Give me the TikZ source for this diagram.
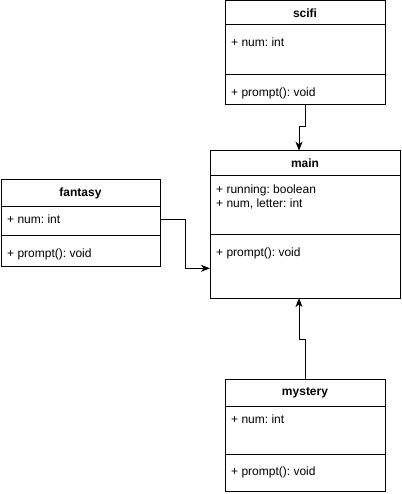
\documentclass[tikz,border=0pt]{standalone}
\usepackage{fontspec}
\setmainfont{Liberation Sans}
\usetikzlibrary{positioning,arrows.meta}

\tikzset{
  box/.style={draw, line width=1pt, inner sep=0pt, outer sep=0pt, minimum width=#1},
  box/.default=160pt,
  head/.style={box=#1, font=\fontsize{12}{14}\selectfont\bfseries},
  head/.default=160pt,
  member/.style={anchor=base west, inner sep=0pt, font=\fontsize{12}{14}\selectfont\frenchspacing},
  link/.style={line width=1pt, -{Stealth[length=9pt,width=7pt,inset=2.5pt]}}
}

\begin{document}
\begin{tikzpicture}[x=1pt,y=-1pt]
\useasboundingbox (0,0) rectangle (401,494);

% scifi
\node[head, minimum height=24pt] (scifi) at (305,13) {scifi};
\node[box, minimum height=50pt, below=0pt of scifi] (scifiA) {};
\node[box, minimum height=29.5pt, below=0pt of scifiA] (scifiM) {};
\node[member] (scifiNum) at ([xshift=6pt,yshift=-21.5pt]scifiA.north west) {+ num: int};
\node[member] (scifiPrompt) at ([xshift=6pt,yshift=-21.3pt]scifiM.north west) {+ prompt(): void};

% main
\node[head=190pt, minimum height=25pt] (main) at (305,163.2) {main};
\node[box=190pt, minimum height=58.6pt, below=0pt of main] (mainA) {};
\node[box=190pt, minimum height=63.7pt, below=0pt of mainA] (mainM) {};
\node[member] (mainRun) at ([xshift=6pt,yshift=-18pt]mainA.north west) {+ running: boolean};
\node[member] (mainNum) at ([xshift=6pt,yshift=-32pt]mainA.north west) {+ num, letter: int};
\node[member] (mainPrompt) at ([xshift=6pt,yshift=-21.7pt]mainM.north west) {+ prompt(): void};

% fantasy
\node[head=159pt, minimum height=26.7pt] (fantasy) at (80.5,193.3) {fantasy};
\node[box=159pt, minimum height=29pt, below=0pt of fantasy] (fantasyA) {};
\node[box=159pt, minimum height=31pt, below=0pt of fantasyA] (fantasyM) {};
\node[member] (fantasyNum) at ([xshift=6pt,yshift=-16.6pt]fantasyA.north west) {+ num: int};
\node[member] (fantasyPrompt) at ([xshift=6pt,yshift=-21.6pt]fantasyM.north west) {+ prompt(): void};

% mystery
\node[head, minimum height=27.4pt] (mystery) at (305,393) {mystery};
\node[box, minimum height=47.6pt, below=0pt of mystery] (mysteryA) {};
\node[box, minimum height=36.7pt, below=0pt of mysteryA] (mysteryM) {};
\node[member] (mysteryNum) at ([xshift=6pt,yshift=-16.7pt]mysteryA.north west) {+ num: int};
\node[member] (mysteryPrompt) at ([xshift=6pt,yshift=-21.3pt]mysteryM.north west) {+ prompt(): void};

% links
\coordinate (topIn) at ([xshift=-6pt]main.north);
\coordinate (leftIn) at (mainM.west |- 0,268.3);
\coordinate (bottomIn) at ([xshift=-6pt]mainM.south);
\draw[link] ([xshift=0.7pt]scifiM.south) |- (305.7,126.7) -| (topIn);
\draw[link] (fantasyA.east |- 0,219.3) -- (185,219.3) |- (leftIn);
\draw[link] ([xshift=0.7pt]mystery.north) |- (305.7,339.3) -| (bottomIn);

\end{tikzpicture}
\end{document}
